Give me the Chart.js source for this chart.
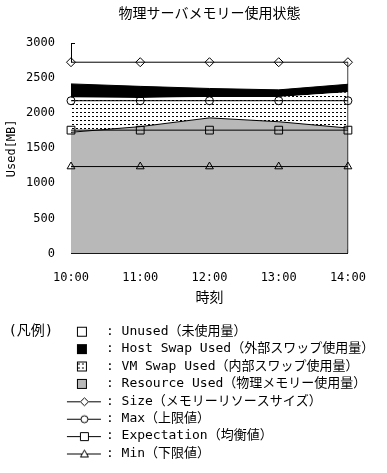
<!DOCTYPE html>
<html>
<head>
<meta charset="utf-8">
<script src="https://cdn.jsdelivr.net/npm/chart.js"></script>
<style>
  html, body { margin: 0; padding: 0; background: #fff; }
</style>
</head>
<body>
<canvas id="memChart" width="387" height="473"></canvas>
<script>
/* ============================= */
/* DATA */
/* ============================= */

const times = ["10:00", "11:00", "12:00", "13:00", "14:00"];

// stacked areas (MB)
const resourceUsed = [1730, 1810, 1935, 1880, 1790];
const vmSwapUsed = [495, 410, 300, 355, 510];
const hostSwapUsed = [195, 165, 120, 100, 115];
const unusedMem = [310, 345, 375, 395, 315];

// reference lines (MB)
const sizeVals = [2730, 2730, 2730, 2730, 2730];
const maxVals = [2180, 2180, 2180, 2180, 2180];
const expectationVals = [1760, 1760, 1760, 1760, 1760];
const minVals = [1240, 1240, 1240, 1240, 1240];

const yTicks = { min: 0, max: 3000, step: 500 };

const MONO = '"DejaVu Sans Mono", "Noto Sans CJK JP"';
const CJK = '"Noto Sans CJK JP"';

/* ============================= */
/* FILLS + LEGEND SYMBOLS */
/* ============================= */

const canvas = document.getElementById("memChart");
const ctx = canvas.getContext("2d");

function dashPattern() {
  const tile = document.createElement("canvas");
  tile.width = 4;
  tile.height = 4;
  const g = tile.getContext("2d");
  g.fillStyle = "#fff";
  g.fillRect(0, 0, 4, 4);
  g.fillStyle = "#000";
  g.fillRect(0, 0, 2, 1);
  return ctx.createPattern(tile, "repeat");
}

const vmFill = dashPattern();

// legend symbol images: 100 x 14, drawn centred on the legend box
function boxSymbol(fill) {
  const c = document.createElement("canvas");
  c.width = 100;
  c.height = 14;
  const g = c.getContext("2d");
  g.fillStyle = fill;
  g.fillRect(75, 2, 10, 10);
  g.strokeStyle = "#000";
  g.lineWidth = 1;
  g.strokeRect(75.5, 2.5, 9, 9);
  return c;
}

function lineSymbol(marker) {
  const c = document.createElement("canvas");
  c.width = 100;
  c.height = 14;
  const g = c.getContext("2d");
  g.strokeStyle = "#000";
  g.lineWidth = 1;
  g.beginPath();
  g.moveTo(65, 7.5);
  g.lineTo(99, 7.5);
  g.stroke();
  const cx = 82.5, cy = 7.5;
  g.beginPath();
  if (marker === "diamond") {
    g.moveTo(cx, cy - 4); g.lineTo(cx + 4, cy); g.lineTo(cx, cy + 4); g.lineTo(cx - 4, cy); g.closePath();
  } else if (marker === "circle") {
    g.arc(cx, cy, 3.5, 0, Math.PI * 2);
  } else if (marker === "square") {
    g.rect(cx - 4, cy - 4, 8, 8);
  } else {
    g.moveTo(cx, cy - 4); g.lineTo(cx + 4, cy + 3); g.lineTo(cx - 4, cy + 3); g.closePath();
  }
  g.fillStyle = "#fff";
  g.fill();
  g.stroke();
  return c;
}

/* ============================= */
/* DATASETS */
/* ============================= */

function area(label, data, fill, fillTarget, border) {
  return {
    label, data, fill: fillTarget, backgroundColor: fill,
    borderColor: "#000", borderWidth: border, pointRadius: 0,
    tension: 0, stack: "mem", order: 2,
  };
}

function refLine(label, data, style, radius) {
  return {
    label, data, fill: false, borderColor: "#000", borderWidth: 1,
    pointStyle: style, pointRadius: radius, pointBorderColor: "#000",
    pointBackgroundColor: "rgba(0,0,0,0)", pointBorderWidth: 1,
    stack: label, order: 1, clip: false,
  };
}

const datasets = [
  area("Resource Used（物理メモリー使用量）", resourceUsed, "#b8b8b8", "origin", 1),
  area("VM Swap Used（内部スワップ使用量）", vmSwapUsed, vmFill, "-1", 0),
  area("Host Swap Used（外部スワップ使用量）", hostSwapUsed, "#000", "-1", 1),
  area("Unused（未使用量）", unusedMem, "#fff", "-1", 0),
  refLine("Size（メモリーリソースサイズ）", sizeVals, "rectRot", 4.5),
  refLine("Max（上限値）", maxVals, "circle", 4),
  refLine("Expectation（均衡値）", expectationVals, "rect", 5.5),
  refLine("Min（下限値）", minVals, "triangle", 4.5),
  {
    // right edge of the plot: last time slot, from 0 up to Size
    label: "edge",
    data: [
      { x: times[times.length - 1], y: 0 },
      { x: times[times.length - 1], y: sizeVals[sizeVals.length - 1] },
    ],
    borderColor: "#000", borderWidth: 1, pointRadius: 0, fill: false,
    stack: "edge", order: 1,
  },
];

const legendOrder = [
  [3, boxSymbol("#fff")],
  [2, boxSymbol("#000")],
  [1, boxSymbol(vmFill)],
  [0, boxSymbol("#b8b8b8")],
  [4, lineSymbol("diamond")],
  [5, lineSymbol("circle")],
  [6, lineSymbol("square")],
  [7, lineSymbol("triangle")],
];

/* ============================= */
/* CHART */
/* ============================= */

new Chart(canvas, {
  type: "line",
  data: { labels: times, datasets },
  options: {
    responsive: false,
    animation: false,
    devicePixelRatio: 1,
    layout: { padding: { left: 0, right: 0, top: 0, bottom: 3 } },
    plugins: {
      tooltip: { enabled: false },
      title: {
        display: true,
        text: "物理サーバメモリー使用状態",
        fullSize: false,
        color: "#000",
        font: { family: CJK, size: 14, weight: "normal" },
        padding: { top: 4.6, bottom: 21.9 },
      },
      legend: {
        position: "bottom",
        align: "start",
        title: {
          display: true,
          text: " (凡例)",
          position: "start",
          color: "#000",
          font: { family: MONO, size: 14 },
          padding: { top: 3.9, bottom: -20.7 },
        },
        labels: {
          usePointStyle: true,
          pointStyleWidth: 95,
          padding: 4.4,
          color: "#000",
          font: { family: MONO, size: 13 },
          generateLabels: (chart) =>
            legendOrder.map(([i, img]) => ({
              text: ": " + chart.data.datasets[i].label,
              pointStyle: img,
              fillStyle: "#fff",
              strokeStyle: "#000",
              lineWidth: 0,
              hidden: false,
              datasetIndex: i,
              fontColor: "#000",
            })),
        },
      },
    },
    scales: {
      x: {
        type: "category",
        offset: false,
        afterFit: (s) => { s.height = 67.4; },
        grid: { drawOnChartArea: false, drawTicks: true, tickLength: -4, color: "#000" },
        border: { color: "#000", width: 1 },
        ticks: {
          padding: 21, color: "#000", maxRotation: 0, autoSkip: false,
          font: { family: MONO, size: 12 },
        },
        title: {
          display: true, text: "時刻", color: "#000",
          font: { family: CJK, size: 14 },
          padding: { top: 4, bottom: 15.3 },
        },
      },
      y: {
        stacked: true,
        min: yTicks.min,
        max: yTicks.max,
        afterFit: (s) => { s.width = 71; },
        grid: { drawOnChartArea: false, drawTicks: true, tickLength: -4, color: "#000" },
        border: { color: "#000", width: 1 },
        ticks: {
          stepSize: yTicks.step, padding: 20, color: "#000",
          font: { family: MONO, size: 12 },
          callback: (v) => String(v),
        },
        title: {
          display: true, text: "Used[MB]", color: "#000",
          font: { family: MONO, size: 12 },
          padding: { top: 4.8, bottom: 4 },
        },
      },
      // empty strip on the right side of the plot
      yRight: {
        type: "linear",
        position: "right",
        display: true,
        afterFit: (s) => { s.width = 38; },
        grid: { display: false },
        border: { display: false },
        ticks: { display: false },
      },
    },
  },
});
</script>
</body>
</html>
